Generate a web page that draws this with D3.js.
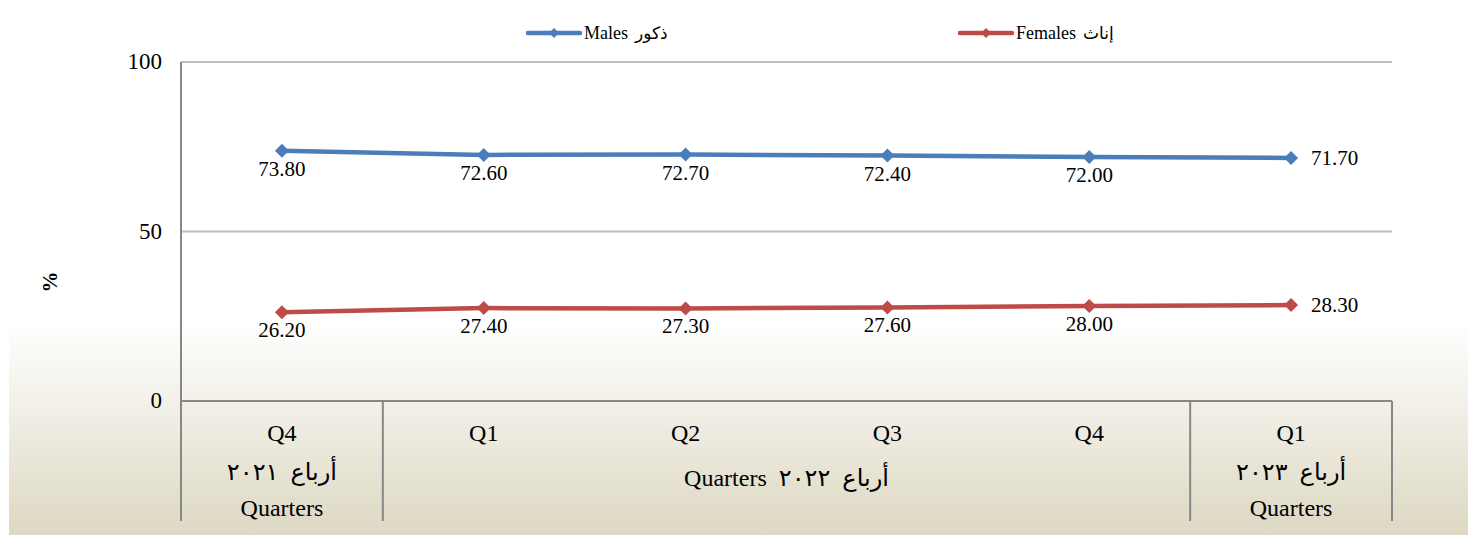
<!DOCTYPE html>
<html>
<head>
<meta charset="utf-8">
<script src="https://cdn.jsdelivr.net/npm/d3@7"></script>
<style>
  body { margin: 0; background: #ffffff; }
  svg text { font-family: "Liberation Serif", "DejaVu Sans", serif; fill: #000; font-weight: normal; }
</style>
</head>
<body>
<div id="chart"></div>
<script>
// data
var quarters = ["Q4", "Q1", "Q2", "Q3", "Q4", "Q1"];
var males = [73.8, 72.6, 72.7, 72.4, 72.0, 71.7];
var females = [26.2, 27.4, 27.3, 27.6, 28.0, 28.3];
var yTicks = [0, 50, 100];
var seriesNames = ["Males", "Females"];
var seriesArabic = ["ذكور", "إناث"];
var yearStart = [0, 1, 5];
var yearEnd = [1, 5, 6];
var yearLines = [["أرباع  ٢٠٢١", "Quarters"], ["Quarters  أرباع  ٢٠٢٢"], ["أرباع  ٢٠٢٣", "Quarters"]];

var svgWidth = 1468;
var svgHeight = 536;
var margin = { top: 62, right: 76, bottom: 135, left: 181 };
var chartWidth = svgWidth - margin.left - margin.right;
var chartHeight = svgHeight - margin.top - margin.bottom;

var colors = ["#4A7EBB", "#BE4B48"];
var serif = "Liberation Serif, DejaVu Sans, serif";

var svg = d3.select("#chart")
    .append("svg")
    .attr("width", svgWidth)
    .attr("height", svgHeight)
    .attr("font-family", serif);

// background gradient
var grad = svg.append("defs").append("linearGradient")
    .attr("id", "bg")
    .attr("x1", 0).attr("y1", 0).attr("x2", 0).attr("y2", 1);
grad.append("stop").attr("offset", "0").attr("stop-color", "#ffffff");
grad.append("stop").attr("offset", "0.6").attr("stop-color", "#ffffff");
grad.append("stop").attr("offset", "1").attr("stop-color", "#DDD8C3");

svg.append("rect")
    .attr("x", 9).attr("y", 0)
    .attr("width", svgWidth - 9).attr("height", svgHeight - 1)
    .attr("fill", "url(#bg)");

var chartGroup = svg.append("g")
    .attr("transform", `translate(${margin.left}, ${margin.top})`);

var xScale = d3.scaleBand()
    .domain(d3.range(quarters.length))
    .range([0, chartWidth]);

var yScale = d3.scaleLinear()
    .domain([0, 100])
    .range([chartHeight, 0]);

// gridlines
chartGroup.selectAll(".grid")
    .data(yTicks.filter(d => d > 0))
    .enter()
    .append("line")
    .attr("x1", 0)
    .attr("x2", chartWidth)
    .attr("y1", d => yScale(d))
    .attr("y2", d => yScale(d))
    .attr("stroke", "#BFBFBF")
    .attr("stroke-width", 2);

// y axis
var yAxis = d3.axisLeft(yScale).tickValues(yTicks).tickSize(0).tickPadding(19);
var yG = chartGroup.append("g").call(yAxis);
yG.select(".domain").remove();
yG.attr("font-family", serif);
yG.selectAll("text")
    .attr("font-size", "23px")
    .attr("dy", "0.3em");

var catBottom = chartHeight + 120;

chartGroup.append("line")
    .attr("x1", 0).attr("x2", 0)
    .attr("y1", 0).attr("y2", catBottom)
    .attr("stroke", "#878787").attr("stroke-width", 2);

chartGroup.append("line")
    .attr("x1", 0).attr("x2", chartWidth)
    .attr("y1", chartHeight).attr("y2", chartHeight)
    .attr("stroke", "#878787").attr("stroke-width", 2);

// category group separators
var seps = yearEnd.map(d => d === quarters.length ? chartWidth : xScale(d));
chartGroup.selectAll(".sep")
    .data(seps)
    .enter()
    .append("line")
    .attr("x1", d => d).attr("x2", d => d)
    .attr("y1", chartHeight).attr("y2", catBottom)
    .attr("stroke", "#878787").attr("stroke-width", 2);

// quarter labels
chartGroup.selectAll(".qlab")
    .data(quarters)
    .enter()
    .append("text")
    .attr("x", (d, i) => xScale(i) + xScale.bandwidth() / 2)
    .attr("y", chartHeight + 40)
    .attr("text-anchor", "middle")
    .attr("font-size", "24px")
    .text(d => d);

// year labels
yearLines.forEach(function (lines, g) {
    var cx = (xScale(yearStart[g]) + (yearEnd[g] === quarters.length ? chartWidth : xScale(yearEnd[g]))) / 2;
    var startY = lines.length === 1 ? chartHeight + 85 : chartHeight + 79;
    lines.forEach(function (line, k) {
        chartGroup.append("text")
            .attr("x", cx)
            .attr("y", startY + k * 36)
            .attr("text-anchor", "middle")
            .attr("font-size", "24px")
            .style("white-space", "pre")
            .text(line);
    });
});

// y label
svg.append("text")
    .attr("transform", "translate(57, 282) rotate(-90)")
    .attr("text-anchor", "middle")
    .attr("font-size", "21px")
    .style("font-weight", "bold")
    .text("%");

function diamond(x, y, r) {
    return `M${x},${y - r}L${x + r},${y}L${x},${y + r}L${x - r},${y}Z`;
}

var line = d3.line()
    .x((d, i) => xScale(i) + xScale.bandwidth() / 2)
    .y(d => yScale(d));

[males, females].forEach(function (values, s) {
    chartGroup.append("path")
        .datum(values)
        .attr("d", line)
        .attr("fill", "none")
        .attr("stroke", colors[s])
        .attr("stroke-width", 4.5)
        .attr("stroke-linejoin", "round");

    chartGroup.selectAll(null)
        .data(values)
        .enter()
        .append("path")
        .attr("d", (d, i) => diamond(xScale(i) + xScale.bandwidth() / 2, yScale(d), 7))
        .attr("fill", colors[s]);

    chartGroup.selectAll(null)
        .data(values)
        .enter()
        .append("text")
        .attr("x", (d, i) => i === values.length - 1
            ? xScale(i) + xScale.bandwidth() / 2 + 20
            : xScale(i) + xScale.bandwidth() / 2)
        .attr("y", (d, i) => i === values.length - 1 ? yScale(d) + 7 : yScale(d) + 25)
        .attr("text-anchor", (d, i) => i === values.length - 1 ? "start" : "middle")
        .attr("font-size", "21px")
        .text(d => d.toFixed(2));
});

// legend
var legendX = [528, 960];
seriesNames.forEach(function (name, s) {
    var lg = svg.append("g").attr("transform", `translate(${legendX[s]}, 33)`);
    lg.append("line")
        .attr("x1", 0).attr("x2", 52)
        .attr("y1", 0).attr("y2", 0)
        .attr("stroke", colors[s])
        .attr("stroke-width", 4.5)
        .attr("stroke-linecap", "round");
    lg.append("path")
        .attr("d", diamond(26, 0, 5))
        .attr("fill", colors[s]);
    var t = lg.append("text")
        .attr("x", 56)
        .attr("y", 6)
        .attr("font-size", "18px")
        .text(name);
    var w = t.node().getComputedTextLength();
    lg.append("text")
        .attr("x", 56 + w + 7)
        .attr("y", 6)
        .attr("font-size", "17px")
        .text(seriesArabic[s]);
});
</script>
</body>
</html>
